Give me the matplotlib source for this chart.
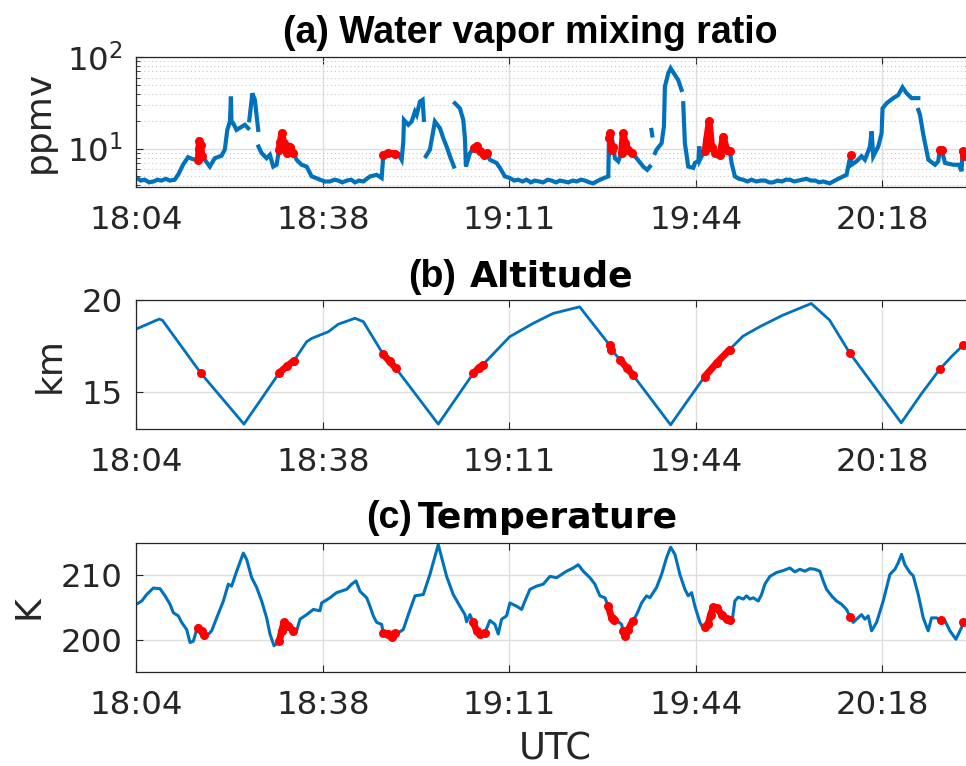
import numpy as np
import matplotlib
matplotlib.use("Agg")
import matplotlib.pyplot as plt
from matplotlib.ticker import LogLocator, NullFormatter, FixedLocator

nan = np.nan

# time axis: minutes after 18:00 UTC
tick_pos = [4, 37.5, 71, 104.5, 138]
tick_lab = ['18:04', '18:38', '19:11', '19:44', '20:18']
t_lim = (4, 154.5)

# (a) water vapor mixing ratio, ppmv (nan = data gap)
wv_t = [4.1, 4.8, 5.5, 6.3, 7.1, 7.8, 8.5, 9.3, 10.0, 10.9, 11.5, 12.4, 13.3, 14.2, 15.15, 15.33, 15.62, 15.74, 16.3, 17.2,
        18.1, 19.3, 19.9, 20.35, 20.83, 21.0, 21.1, 21.4, 22.0, 23.5, 24.1, nan,
        24.3, 24.85, 25.3, 25.9, nan,
        25.95, 26.5, 27.4, 28.0, 28.6, 29.2, 29.64, 29.9, 30.12, 30.53, 31.01, 31.61, 32.21, 32.8, 33.7, 34.6, 35.5, 36.3,
        37.0, 37.9, 38.8, 39.6, 40.3, 41.0, 41.8, 42.6, 43.3, 44.0, 44.8, 45.4, 46.0, 47.2, 48.08, 48.38, 49.28, 50.47,
        51.07, 51.67, 51.97, 52.09, 52.87, 53.47, 54.06, 54.37, 54.96, 55.44, 55.67, nan,
        56.03, 56.75, 57.65, 58.55, 59.15, 59.75, 60.35, 61.06, nan,
        61.24, 62.14, 62.74, 63.04, 63.22, 63.94, 64.66, 65.14, 65.73, 66.45, 66.93, 67.53, 68.73, 69.33, 70.22, 71.1,
        71.9, 72.6, 73.4, 74.1, 74.9, 75.6, 76.4, 77.1, 77.9, 78.6, 79.4, 80.1, 80.9, 81.6, 82.4, 83.1, 83.9, 84.6, 85.4,
        86.1, 87.3, 88.0, 88.8, 88.91, 89.09, 89.39, 89.69, 89.99, 90.58, 91.18, 91.48, 91.78, 92.38, 92.98, 93.88,
        95.08, 95.79, 96.27, nan,
        96.55, 96.7, nan,
        97.2, 97.47, 98.37, 98.79, 98.97, 99.57, 99.99, 100.77, 101.36, 101.96, nan,
        102.26, 102.56, 103.16, 104.06, 104.36, 105.0, 105.14, 105.26, 105.86, 106.2, 106.45, 106.93, 107.35, 107.95,
        108.85, 109.45, 110.05, 110.65, 110.95, 111.54, 112.3, 113.0, 113.8, 114.5, 115.4, 116.2, 117.0, 117.7, 118.4,
        119.2, 120.0, 120.7, 121.4, 122.2, 122.9, 123.7, 124.4, 125.2, 126.0, 126.7, 127.4, 128.6, 129.5, 130.4, 131.6,
        132.32, 132.5, 133.4, 134.3, 134.9, 135.5, 135.8, 136.1, 136.4, 137.3, 137.9, 138.07, 138.8, 140.0, 140.9,
        141.66, 142.4, 143.3, 144.5, nan,
        144.5, 144.8, 145.4, 146.3, 147.5, 148.07, 148.37, 148.67, 149.3, 150.8, 151.8, 152.26, 152.44, 152.74, 153.04,
        154.5]
wv = [4.8, 4.5, 4.6, 4.3, 4.4, 4.6, 4.5, 4.7, 4.5, 4.6, 5.2, 6.7, 8.1, 7.7, 7.6, 12.3, 11.0, 8.3, 7.6, 6.4,
      7.9, 8.4, 9.8, 16.1, 19.9, 37.2, 19.5, 19.1, 16.1, 18.3, 16.8, nan,
      20.5, 40.4, 34.3, 16.1, nan,
      10.6, 9.0, 7.9, 8.6, 6.4, 6.7, 9.8, 12.0, 14.8, 11.5, 9.0, 10.6, 9.0, 7.6, 6.7, 6.4, 5.0, 4.8,
      4.6, 4.4, 4.4, 4.6, 4.5, 4.3, 4.5, 4.6, 4.3, 4.5, 4.4, 4.7, 5.0, 5.2, 4.8, 8.6, 9.0, 8.8,
      8.8, 7.6, 12.0, 20.7, 18.3, 19.9, 25.5, 23.5, 32.8, 34.3, 20.7, nan,
      8.3, 9.8, 19.9, 16.8, 13.1, 10.6, 8.3, 6.4, nan,
      31.5, 27.7, 20.7, 13.1, 6.4, 9.0, 10.2, 10.8, 9.4, 8.6, 9.0, 7.6, 7.0, 6.2, 5.0, 4.8,
      4.5, 4.6, 4.4, 4.6, 4.3, 4.5, 4.4, 4.3, 4.6, 4.5, 4.3, 4.5, 4.4, 4.3, 4.5, 4.4, 4.6, 4.5, 4.3,
      4.2, 4.6, 4.8, 5.0, 13.1, 14.8, 9.8, 10.6, 7.9, 7.3, 9.0, 14.8, 11.5, 9.8, 9.0, 7.9,
      6.4, 5.9, 6.4, nan,
      16.1, 14.0, nan,
      9.0, 9.8, 11.5, 17.5, 47.9, 66.8, 75.9, 64.1, 56.5, 44.0, nan,
      31.5, 11.5, 6.4, 6.2, 7.0, 7.4, 10.6, 7.6, 9.0, 9.5, 12.5, 19.9, 10.6, 9.0,
      8.6, 13.6, 9.8, 9.4, 7.0, 5.0, 4.7, 4.6, 4.4, 4.6, 4.4, 4.5, 4.5, 4.3, 4.3,
      4.5, 4.4, 4.6, 4.6, 4.4, 4.5, 4.6, 4.7, 4.5, 4.5, 4.3, 4.4, 4.2, 4.5, 4.8, 5.2,
      8.6, 6.7, 7.3, 8.3, 7.6, 9.4, 10.6, 15.5, 8.3, 10.6, 14.8, 27.7, 31.5, 35.8, 38.8,
      47.0, 40.4, 35.8, 35.8, nan,
      26.6, 23.5, 14.2, 7.6, 6.7, 7.3, 9.8, 9.8, 7.0, 6.7, 6.7, 5.7, 9.4, 8.4, 9.0,
      8.8]
wv_red_t = [15.15, 15.25, 15.33, 15.62, 15.74, nan, 29.64, 29.9, 30.12, 30.53, 31.01, 31.61, 32.21, nan,
            48.38, 49.28, 50.47, nan, 64.66, 65.14, 65.73, 66.45, 66.93, nan, 88.91, 89.09, 89.39, 89.69, nan,
            91.18, 91.48, 91.78, 92.38, 92.98, nan,
            106.2, 106.45, 106.93, 107.35, 107.95, 108.85, 109.45, 110.05, 110.65, nan,
            132.32, nan, 148.37, 148.67, nan, 152.44, 152.74]
wv_red = [7.6, 10.0, 12.3, 11.0, 8.3, nan, 9.8, 12.0, 14.8, 11.5, 9.0, 10.6, 9.0, nan,
          8.6, 9.0, 8.8, nan, 10.2, 10.8, 9.4, 8.6, 9.0, nan, 13.1, 14.8, 9.8, 10.6, nan,
          9.0, 14.8, 11.5, 9.8, 9.0, nan,
          9.5, 12.5, 19.9, 10.6, 9.0, 8.6, 13.6, 9.8, 9.4, nan,
          8.6, nan, 9.8, 9.8, nan, 9.4, 8.4]

# (b) altitude, km
alt_t = [4.0, 8.13, 8.7, 15.62, 23.34, 26.5, 29.69, 31.0, 32.32, 34.6, 35.5, 38.49, 40.29, 43.28, 44.78, 48.37,
         49.5, 50.65, 58.25, 61.5, 64.54, 65.5, 66.28, 71.07, 75.26, 78.85, 83.65, 89.03, 89.33, 90.95, 92.1, 93.23,
         99.99, 103.0, 106.1, 108.3, 110.59, 112.99, 115.98, 120.17, 125.26, 128.56, 132.15, 141.43, 145.0, 148.32,
         150.5, 152.51, 154.5]
alt = [18.43, 18.97, 18.9, 16.03, 13.28, 14.66, 16.06, 16.4, 16.71, 17.74, 17.92, 18.28, 18.69, 19.01, 18.83, 17.06,
       16.68, 16.30, 13.28, 14.7, 16.03, 16.3, 16.5, 18.01, 18.73, 19.27, 19.63, 17.56, 17.32, 16.75, 16.33, 15.94,
       13.24, 14.53, 15.85, 16.6, 17.32, 18.04, 18.55, 19.18, 19.81, 18.91, 17.14, 13.35, 14.9, 16.24,
       16.95, 17.54, 17.8]
alt_red_t = [15.62, nan, 29.69, 31.0, 32.32, nan, 48.37, 49.5, 50.65, nan, 64.54, 65.5, 66.28, nan, 89.03, 89.33, nan,
             90.95, 92.1, 93.23, nan, 106.1, 108.3, 110.59, nan, 132.15, nan, 148.32, nan, 152.51]
alt_red = [16.03, nan, 16.06, 16.4, 16.71, nan, 17.06, 16.68, 16.30, nan, 16.03, 16.3, 16.5, nan, 17.56, 17.32, nan,
           16.75, 16.33, 15.94, nan, 15.85, 16.6, 17.32, nan, 17.14, nan, 16.24, nan, 17.54]

# (c) temperature, K
temp_t = [4.01, 4.97, 5.86, 7.06, 8.26, 9.16, 10.06, 10.65, 11.55, 12.15, 13.05, 13.65, 14.25, 14.85, 15.15, 15.74,
          16.16, 16.64, 17.54, 18.44, 19.64, 20.53, 21.13, 22.03, 23.23, 23.83, 24.73, 25.62, 26.52, 27.42, 28.02,
          28.74, 29.52, 29.70, 30.12, 30.53, 31.31, 32.21, 32.81, 33.41, 34.61, 35.80, 37.00, 37.30, 38.80, 40.00,
          41.79, 42.69, 43.47, 44.19, 45.39, 45.98, 46.58, 47.18, 48.08, 48.38, 49.28, 49.87, 50.47, 51.07, 51.97,
          52.87, 54.07,
          55.56, 56.75, 58.25, 59.75, 60.94, 62.14, 63.04, 63.34, 63.94, 64.54, 65.14, 65.73, 66.63, 67.53, 68.43,
          69.03, 69.63, 70.52, 71.12, 72.32, 73.22, 73.82, 74.72, 75.91, 77.11, 78.31, 79.51, 81.30, 82.50, 83.40,
          84.30, 85.50, 86.39, 87.29, 88.19, 88.79, 89.39, 89.81, 90.58, 91.18, 91.48, 91.78, 92.38, 93.16, 93.88,
          94.78, 95.67, 96.27, 97.47, 98.37, 99.27, 99.99, 100.77, 101.66, 102.56, 103.16, 103.76,
          104.36, 105.26, 105.86, 106.15, 106.75, 107.17, 107.65, 108.37, 109.15, 110.05, 110.65, 111.12, 111.54,
          112.14, 113.04, 113.64, 114.24, 114.84, 115.74, 116.33, 116.93, 117.83, 119.03, 120.23, 121.42, 122.32,
          123.22, 124.12, 125.02, 125.92, 126.81, 127.41, 128.01, 128.91, 129.81, 130.71, 131.60, 132.20, 132.80,
          133.40, 134.30, 134.90, 135.50, 136.10, 137.00, 138.19, 139.39, 140.29, 140.89, 141.48, 142.08, 142.98,
          143.58, 144.48, 145.38, 146.27, 146.87, 147.77, 148.49, 149.27, 150.17, 151.25, 152.26, 152.56, 153.04,
          154.5]
temp = [205.5, 206.0, 207.0, 208.0, 207.9, 206.8, 205.5, 204.2, 203.7, 202.7, 201.6, 199.6, 199.8, 201.6, 201.9, 201.3,
        200.7, 200.6, 201.4, 203.4, 206.0, 208.6, 208.3, 210.6, 213.4, 212.4, 209.6, 208.1, 206.0, 203.4, 200.9,
        199.1, 199.6, 199.8, 201.4, 202.7, 202.2, 201.4, 201.4, 203.2, 203.9, 204.7, 204.5, 205.7, 206.5, 207.3,
        207.8, 208.6, 209.1, 207.5, 206.5, 205.2, 203.7, 202.7, 202.4, 201.0, 200.9, 200.4, 201.0, 201.1, 201.6,
        203.9, 206.8,
        207.0, 210.1, 214.7, 209.8, 207.0, 205.2, 203.9, 202.8, 203.9, 202.7, 201.4, 200.9, 201.1, 203.0, 202.4,
        200.9, 203.2, 203.7, 205.7, 205.2, 204.7, 206.0, 207.8, 208.3, 208.6, 209.8, 209.6, 210.6, 211.1, 211.6,
        210.6, 209.6, 208.6, 206.8, 206.5, 205.2, 203.4, 203.0, 202.8, 202.4, 201.4, 200.6, 201.6, 202.9, 203.9,
        205.7, 206.8, 206.5, 208.1, 210.1, 212.7, 214.3, 213.2, 210.1, 207.8, 206.8, 207.3,
        205.2, 202.7, 201.8, 202.0, 202.4, 203.9, 205.0, 204.9, 203.9, 203.2, 203.0, 203.4, 206.0,
        206.6, 206.3, 206.8, 206.3, 206.5, 206.0, 207.0, 208.6, 209.8, 210.4, 210.7, 211.1, 210.5,
        210.9, 210.6, 211.0, 210.9, 210.6, 209.1, 207.8, 206.8, 206.0, 205.5, 204.7, 203.6, 202.7,
        203.2, 203.9, 203.2, 203.7, 201.4, 202.7, 206.0, 210.1, 210.9, 211.9, 213.2, 211.6, 210.4,
        209.9, 207.0, 203.4, 201.4, 203.4, 203.4, 203.0, 203.0, 201.4, 200.1, 201.9, 202.8, 202.8,
        203.2]
temp_red_t = [15.15, 15.74, 16.16, nan, 29.70, 30.12, 30.53, 31.31, 32.21, nan, 48.38, 49.28, 49.87, 50.47, nan,
              64.54, 65.14, 65.73, 66.63, nan, 88.79, 89.39, 89.81, nan, 91.48, 91.78, 92.38, 93.16, nan,
              106.15, 106.75, 107.17, 107.65, 108.37, 109.15, 110.05, 110.65, nan, 132.20, nan, 148.49, nan, 152.56]
temp_red = [201.9, 201.3, 200.7, nan, 199.8, 201.4, 202.7, 202.2, 201.4, nan, 201.0, 200.9, 200.4, 201.0, nan,
            202.7, 201.4, 200.9, 201.1, nan, 205.2, 203.4, 203.0, nan, 201.4, 200.6, 201.6, 202.9, nan,
            202.0, 202.4, 203.9, 205.0, 204.9, 203.9, 203.2, 203.0, nan, 203.6, nan, 203.0, nan, 202.8]

BLUE = '#0072BD'
DARK = '#262626'

plt.rcParams['font.family'] = 'DejaVu Sans'
fig = plt.figure(figsize=(9.66, 7.66), dpi=100)

W, H = 966.0, 766.0
left_px, right_px = 136.3, 974.0
# (top, bottom) of each panel in pixels
rows = [(57.3, 187.3), (300.0, 429.3), (542.7, 672.3)]
axes = []
for top, bot in rows:
    ax = fig.add_axes([left_px / W, 1 - bot / H, (right_px - left_px) / W, (bot - top) / H])
    axes.append(ax)
ax1, ax2, ax3 = axes

red_kw = dict(color='red', lw=5.0, marker='o', ms=6.5, mew=0,
              solid_capstyle='round', solid_joinstyle='round')

ax1.plot(wv_t, wv, color=BLUE, lw=3.0, solid_joinstyle='miter')
ax1.plot(wv_red_t, wv_red, **red_kw)
ax1.set_yscale('log')
ax1.set_ylim(3.8, 100)
ax1.yaxis.set_major_locator(LogLocator(base=10, numticks=5))
ax1.yaxis.set_minor_locator(LogLocator(base=10, subs=np.arange(2, 10), numticks=20))
ax1.yaxis.set_minor_formatter(NullFormatter())
ax1.grid(True, which='minor', axis='y', ls=(0, (1, 2.5)), color='#c8c8c8', lw=0.8)

ax2.plot(alt_t, alt, color=BLUE, lw=2.0)
ax2.plot(alt_red_t, alt_red, **red_kw)
ax2.set_ylim(13, 20)
ax2.set_yticks([15, 20])

ax3.plot(temp_t, temp, color=BLUE, lw=2.2)
ax3.plot(temp_red_t, temp_red, **red_kw)
ax3.set_ylim(195, 215)
ax3.set_yticks([200, 210])

for ax in axes:
    ax.set_xlim(*t_lim)
    ax.xaxis.set_major_locator(FixedLocator(tick_pos))
    ax.set_xticklabels(tick_lab)
    ax.grid(True, which='major', color='#dedede', lw=1.0)
    ax.set_axisbelow(True)
    ax.tick_params(which='both', direction='in', top=True, right=True, color=DARK,
                   labelcolor=DARK, labelsize=23.3)
    ax.tick_params(which='major', length=5, width=0.8)
    ax.tick_params(which='minor', length=3, width=0.6)
    ax.tick_params(axis='x', pad=13)
    ax.tick_params(axis='y', pad=10)
    for s in ax.spines.values():
        s.set_color(DARK)
        s.set_linewidth(0.9)

ax1.set_ylabel('ppmv', fontsize=26, color=DARK, va='center')
ax1.yaxis.set_label_coords(-0.1162, 0.5)
ax2.set_ylabel('km', fontsize=26, color=DARK, va='center')
ax2.yaxis.set_label_coords(-0.103, 0.5)
ax3.set_ylabel('K', fontsize=26, color=DARK, va='center')
ax3.yaxis.set_label_coords(-0.129, 0.5)
ax3.set_xlabel('UTC', fontsize=26.5, color=DARK, va='center')
ax3.xaxis.set_label_coords(0.5, -0.592)

# panel titles
fig.text(283 / W, 1 - 43.3 / H, '(a) Water vapor mixing ratio', fontsize=27, fontweight='bold',
         family='Liberation Sans', va='baseline', ha='left')
fig.text(408 / W, 1 - 286.7 / H, '(b)', fontsize=27, fontweight='bold',
         family='Liberation Sans', va='baseline', ha='left')
fig.text(470 / W, 1 - 286.7 / H, 'Altitude', fontsize=26, fontweight='bold', va='baseline', ha='left')
fig.text(365.7 / W, 1 - 528.3 / H, '(c)', fontsize=27, fontweight='bold',
         family='Liberation Sans', va='baseline', ha='left')
fig.text(418 / W, 1 - 528.3 / H, 'Temperature', fontsize=26, fontweight='bold', va='baseline', ha='left')

fig.savefig('out.png', dpi=100)
